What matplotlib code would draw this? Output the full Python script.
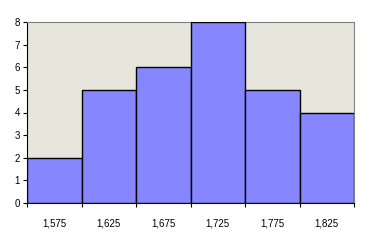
import matplotlib
matplotlib.use("Agg")
import matplotlib.pyplot as plt

bins = ["1,575", "1,625", "1,675", "1,725", "1,775", "1,825"]
counts = [2, 5, 6, 8, 5, 4]
yticks = [0, 1, 2, 3, 4, 5, 6, 7, 8]

plt.rcParams['font.family'] = ['Liberation Sans', 'DejaVu Sans']
fig = plt.figure(figsize=(3.87, 2.44), dpi=100)
ax = fig.add_axes([27/387, 41/244, 327/387, 181/244])
ax.set_facecolor("#e6e6dc")
x = list(range(len(bins)))
ax.bar(x, counts, width=1.0, color="#8686ff", edgecolor="black", linewidth=1.0, zorder=3)
ax.set_xlim(-0.5, len(bins) - 0.5)
ax.set_ylim(0, 8)
ax.set_yticks(yticks)
ax.set_yticklabels([str(v) for v in yticks], fontsize=7)
ax.set_xticks([i - 0.5 for i in range(len(bins) + 1)], minor=False)
ax.set_xticklabels([""] * (len(bins) + 1))
ax.set_xticks(x, minor=True)
ax.set_xticklabels(bins, minor=True, fontsize=7)
ax.tick_params(axis='x', which='minor', length=0, pad=11)
ax.tick_params(axis='x', which='major', length=3, direction='out', width=0.8)
ax.tick_params(axis='y', length=3, direction='out', width=0.8, pad=2)
for s in ["top", "right"]:
    ax.spines[s].set_color("#808080")
    ax.spines[s].set_linewidth(0.8)
for s in ["left", "bottom"]:
    ax.spines[s].set_color("black")
    ax.spines[s].set_linewidth(0.8)
fig.savefig("out.png", dpi=100)
